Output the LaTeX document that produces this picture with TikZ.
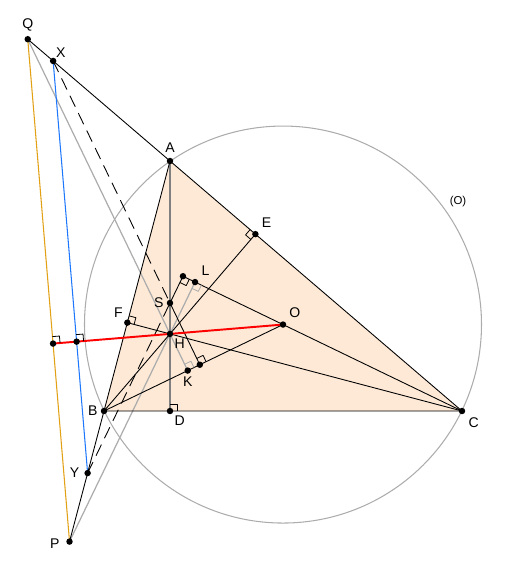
\documentclass[tikz,border=0pt]{standalone}
\usepackage{fontspec}
\setmainfont{Liberation Sans}
\usetikzlibrary{calc}
\definecolor{tri}{RGB}{253,233,214}
\definecolor{lorange}{RGB}{226,160,20}
\definecolor{lblue}{RGB}{30,120,255}
\definecolor{lgray}{RGB}{172,172,172}
% right angle mark at #2, arms towards #3 and #4
\newcommand{\rmark}[4][black]{%
  \coordinate (ra) at ($(#2)!0.14cm!(#3)$);
  \coordinate (rb) at ($(#2)!0.14cm!(#4)$);
  \draw[#1,line width=0.45pt] (ra) -- ($(ra)+(rb)-(#2)$) -- (rb);}

\begin{document}
\begin{tikzpicture}[x=0.02cm,y=-0.02cm,line join=round,
  lbl/.style={font=\fontsize{8}{9}\selectfont,inner sep=1.5pt},
  seg/.style={black,line width=0.5pt},
  gline/.style={lgray,line width=0.7pt},
  dline/.style={black,line width=0.5pt,dash pattern=on 7pt off 4pt}]
\useasboundingbox (0,0) rectangle (505,562);
\begin{scope}
	\coordinate (A) at (170,161);
	\coordinate (B) at (104,411);
	\coordinate (C) at (462,411);
	\coordinate (D) at ($(B)!(A)!(C)$);
	\coordinate (E) at ($(A)!(B)!(C)$);
	\coordinate (F) at ($(A)!(C)!(B)$);
	\coordinate (H) at (intersection of A--D and B--E);
	\coordinate (Ma) at ($(B)!.5!(C)$);
	\coordinate (Ma2) at ($(Ma)!1!90:(C)$);
	\coordinate (Mc) at ($(A)!.5!(B)$);
	\coordinate (Mc2) at ($(Mc)!1!90:(B)$);
	\coordinate (O) at (intersection of Ma--Ma2 and Mc--Mc2);
	\coordinate (S) at ($(A)!0.568!(D)$);
	\coordinate (K) at ($(B)!(H)!(O)$);
	\coordinate (L) at ($(C)!(H)!(O)$);
	\coordinate (Ks) at ($(B)!(S)!(O)$);
	\coordinate (Ls) at ($(C)!(S)!(O)$);
	\coordinate (Q) at (intersection of H--K and A--C);
	\coordinate (P) at (intersection of H--L and A--B);
	\coordinate (X) at (intersection of S--Ks and A--C);
	\coordinate (Y) at (intersection of S--Ls and A--B);
	\coordinate (M) at (intersection of O--H and Q--P);
	\coordinate (N) at (intersection of O--H and X--Y);
	\fill[tri] (A) -- (B) -- (C) -- cycle;
	\draw[lgray,line width=0.6pt] let \p1=($(A)-(O)$), \n1={veclen(\x1,\y1)} in (O) circle [radius=\n1];
	\draw[black!50,line width=0.6pt] (A) -- (D);
	\draw[gline] (Q) -- (K);
	\draw[gline] (P) -- (L);
	\draw[seg] (Q) -- (C) -- (B);
	\draw[seg] (P) -- (A);
	\draw[seg] (B) -- (E);
	\draw[seg] (C) -- (F);
	\draw[seg] (B) -- (O);
	\draw[seg] (C) -- (Ls);
	\draw[seg] (Ks) -- (S) -- (Ls);
	\draw[dline] (X) -- (S);
	\draw[dline] (Y) -- (S);
	\draw[lorange,line width=0.6pt] (Q) -- (P);
	\draw[lblue,line width=0.6pt] (X) -- (Y);
	\draw[red,line width=1.1pt] (O) -- (M);
	\rmark{D}{A}{C}
	\rmark{F}{A}{C}
	\rmark{E}{A}{B}
	\rmark{Ks}{S}{O}
	\rmark{Ls}{S}{C}
	\rmark[lgray]{K}{H}{O}
	\rmark[lgray]{L}{H}{C}
	\rmark{M}{O}{Q}
	\rmark{N}{O}{X}
	\foreach \Nombre in {A,B,C,D,E,F,H,O,S,K,L,Ks,Ls,Q,P,X,Y,M,N}
	\node[circle,inner sep=1.3pt,fill=black] at (\Nombre) {};
\end{scope}
\node[lbl,above=3pt] (lQ) at (Q) {Q};
\node[lbl,above right] (lX) at (X) {X};
\node[lbl,above=3pt] (lA) at (A) {A};
\node[lbl,above right=2pt] (lE) at (E) {E};
\node[lbl,above right=2pt] (lL) at (L) {L};
\node[lbl,left=2pt] (lS) at (S) {S};
\node[lbl,above left=1pt] (lF) at (F) {F};
\node[lbl,above right=2pt] (lO) at (O) {O};
\node[lbl,below right=1pt] (lH) at (H) {H};
\node[lbl,below=2pt] (lK) at (K) {K};
\node[lbl,left=2pt] (lB) at (B) {B};
\node[lbl,below right=1pt] (lD) at (D) {D};
\node[lbl,below right=2pt] (lC) at (C) {C};
\node[lbl,left=3pt] (lY) at (Y) {Y};
\node[lbl,left=4pt,yshift=-1pt] (lP) at (P) {P};
\node[lbl,font=\fontsize{6.5}{8}\selectfont] (lcirc) at (458,202) {(O)};
\end{tikzpicture}
\end{document}
